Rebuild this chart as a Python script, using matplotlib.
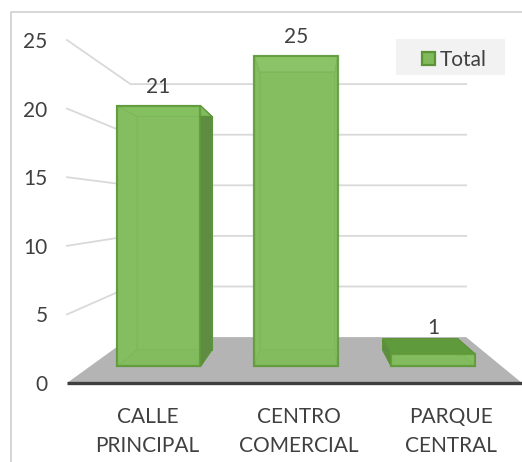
import matplotlib
matplotlib.use("Agg")
import matplotlib.pyplot as plt
from matplotlib.patches import Polygon, Rectangle
from matplotlib.lines import Line2D

# data
categories = ["CALLE\nPRINCIPAL", "CENTRO\nCOMERCIAL", "PARQUE\nCENTRAL"]
values = [21, 25, 1]
series_name = "Total"
y_ticks = [0, 5, 10, 15, 20, 25]

# fake 3d: front plane is the axes, depth shrinks points toward a vanishing point
VP_U, VP_V = 1.595, 12.75
S_FLOOR_BACK = 0.7376
S_BAR_FRONT = 0.905
S_BAR_BACK = 0.81
HALF_W = 0.305

plt.rcParams["font.family"] = ["Lato", "DejaVu Sans"]
text_col = "#404040"

W, H = 522, 462
fig = plt.figure(figsize=(W / 100, H / 100), dpi=100)
ax = fig.add_axes([67 / W, (H - 383) / H, 455 / W, 343 / H])
ax.set_xlim(0, len(categories))
ax.set_ylim(0, 25)
ax.patch.set_visible(False)
for sp in ax.spines.values():
    sp.set_visible(False)


def proj(u, v, s):
    return VP_U + s * (u - VP_U), VP_V + s * (v - VP_V)


def face(pts, **kw):
    ax.add_patch(Polygon([proj(*p) for p in pts], closed=True, clip_on=False, **kw))


n = len(categories)

# back wall + left wall gridlines
for t in y_ticks[1:]:
    x0, y0 = proj(0, t, 1.0)
    x1, y1 = proj(0, t, S_FLOOR_BACK)
    x2, y2 = proj(n, t, S_FLOOR_BACK)
    ax.plot([x0, x1, x2], [y0, y1, y2], color="#d9d9d9", lw=1.3, clip_on=False, zorder=1)

# floor
face([(0, 0, 1.0), (n, 0, 1.0), (n, 0, S_FLOOR_BACK), (0, 0, S_FLOOR_BACK)],
     facecolor="#b4b4b4", edgecolor="none", zorder=2)
ax.plot([0, n], [0, 0], color="#3f3f3f", lw=2.4, clip_on=False, zorder=3,
        solid_capstyle="butt")

edge = "#5b9436"
for i, val in enumerate(values):
    u0 = i + 0.5 - HALF_W
    u1 = i + 0.5 + HALF_W
    sf, sb = S_BAR_FRONT, S_BAR_BACK
    z = 4
    # back
    face([(u0, 0, sb), (u1, 0, sb), (u1, val, sb), (u0, val, sb)],
         facecolor="#7fba5a", edgecolor=edge, lw=0.8, zorder=z)
    # bottom
    face([(u0, 0, sf), (u1, 0, sf), (u1, 0, sb), (u0, 0, sb)],
         facecolor="#74ae50", edgecolor=edge, lw=0.8, zorder=z)
    # sides: the one turned away is seen through the front
    for u in (u0, u1):
        visible = (u == u1 and u1 < VP_U) or (u == u0 and u0 > VP_U)
        face([(u, 0, sf), (u, 0, sb), (u, val, sb), (u, val, sf)],
             facecolor="#5e8c42" if visible else "#7fba5a", edgecolor=edge, lw=0.8,
             zorder=z + 0.1 if visible else z)
    # top: dark when seen from above, lighter for the tall bar seen from below
    top_col = "#5f9a3c" if val < VP_V else ("#a3d583" if val >= 24 else "#80bb5c")
    face([(u0, val, sf), (u1, val, sf), (u1, val, sb), (u0, val, sb)],
         facecolor=top_col, edgecolor=edge, lw=0.8, zorder=z + 0.1)
    # front (see-through)
    face([(u0, 0, sf), (u1, 0, sf), (u1, val, sf), (u0, val, sf)],
         facecolor="#86c062", edgecolor="#5f9a3a", lw=1.6, alpha=0.82, zorder=z + 1)
    # label above the top edge
    lx, ly = proj(i + 0.5, val, sf)
    ly = max(ly, proj(i + 0.5, val, (sf + sb) / 2)[1])
    ax.annotate(str(val), (lx, ly), xytext=(0, 9), textcoords="offset points",
                ha="center", va="baseline", fontsize=15, color=text_col, zorder=10)

ax.set_yticks(y_ticks)
ax.set_yticklabels([str(t) for t in y_ticks])
ax.tick_params(axis="y", length=0, pad=14, labelsize=15, labelcolor=text_col)
ax.set_xticks([])

# category labels (two lines, wider spacing than tick labels allow)
for i, cat in enumerate(categories):
    ax.annotate(cat, (i + 0.53, 0), xycoords=("data", "axes fraction"),
                xytext=(0, -17), textcoords="offset points", ha="center", va="top",
                fontsize=15, color=text_col, linespacing=1.6)

# legend box drawn by hand to get Excel's wide padding
fig.add_artist(Rectangle((396 / W, 1 - 75 / H), 109 / W, 36 / H, transform=fig.transFigure,
                         facecolor="#f2f2f2", edgecolor="none"))
fig.add_artist(Rectangle((421.5 / W, 1 - 64.5 / H), 13 / W, 13 / H, transform=fig.transFigure,
                         facecolor="#80ba5b", edgecolor="#5b9436", lw=1.6))
fig.text(440 / W, 1 - 57.5 / H, series_name, ha="left", va="center_baseline",
         fontsize=15, color=text_col)

# chart border (only top and left visible in the crop)
fig.add_artist(Line2D([11 / W, 11 / W, 1], [0, 1 - 12 / H, 1 - 12 / H],
                      transform=fig.transFigure, color="#cfcfcf", lw=1.2))

fig.savefig("out.png", dpi=100)
